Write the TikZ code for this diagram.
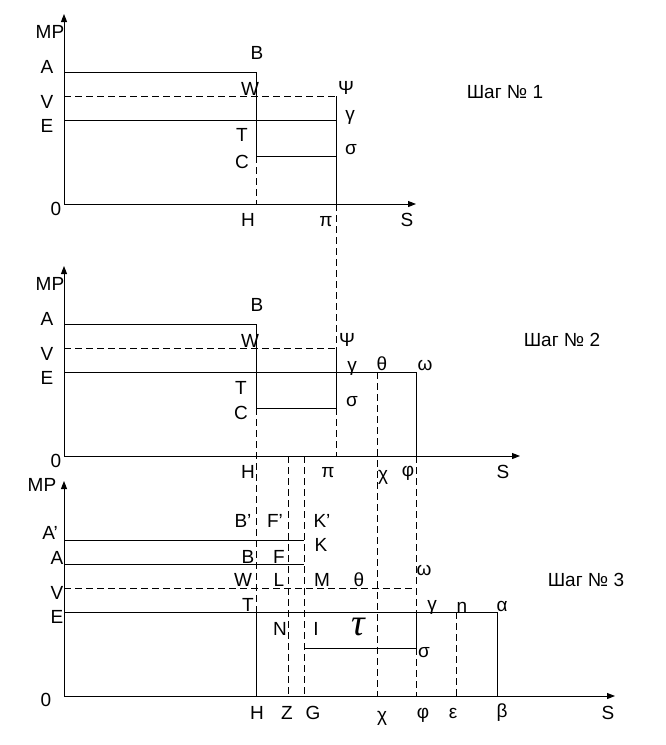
\documentclass[tikz,border=0pt]{standalone}
\usepackage{fontspec}
\setmainfont{Liberation Sans}
\newfontfamily\tauface{Liberation Serif}
\usetikzlibrary{arrows.meta}

\tikzset{
  lbl/.style={inner sep=0pt, font=\fontsize{9.5}{11}\selectfont},
  shag/.style={inner sep=0pt, font=\fontsize{9.5}{11}\selectfont},
  axis/.style={-{Triangle[length=4pt,width=3pt]}},
  brk/.style={dash pattern=on 3.5pt off 2pt},
}

\begin{document}
\begin{tikzpicture}[x=0.5pt, y=-0.5pt, line width=0.5pt]
        \useasboundingbox (0,0) rectangle (665,745);

        % Шаг 1: оси
        \draw[axis] (64,204) -- (64,14);
        \draw[axis] (64,204) -- (416,204);

        % Шаг 1: линии
        \draw (64,72) -- (256,72) -- (256,156);
        \draw[brk] (256,156) -- (256,204);
        \draw[brk] (64,96) -- (336,96);
        \draw (64,120) -- (336,120);
        \draw (256,156) -- (336,156);
        \draw (336,96) -- (336,204);
        \draw[brk] (336,204) -- (336,348);

        % Шаг 1: подписи
        \node[lbl] (mp1) at (50,32) {MP};
        \node[lbl] (a1) at (47,67) {A};
        \node[lbl] (v1) at (47,102) {V};
        \node[lbl] (e1) at (47,126) {E};
        \node[lbl] (o1) at (56,209) {0};
        \node[lbl] (b1) at (257,53) {B};
        \node[lbl] (w1) at (250,89) {W};
        \node[lbl] (psi1) at (346,88) {Ψ};
        \node[lbl] (gam1) at (350,117) {γ};
        \node[lbl] (t1) at (242,135) {T};
        \node[lbl] (sig1) at (351,150) {σ};
        \node[lbl] (c1) at (242,162) {C};
        \node[lbl] (h1) at (248,220) {H};
        \node[lbl] (pi1) at (326,222) {π};
        \node[lbl] (s1) at (407,220) {S};
        \node[shag] (shag1) at (505,92) {Шаг № 1};

        % Шаг 2: оси
        \draw[axis] (64,456) -- (64,266);
        \draw[axis] (64,456) -- (520,456);

        % Шаг 2: линии
        \draw (64,324) -- (256,324) -- (256,408);
        \draw[brk] (256,408) -- (256,612);
        \draw[brk] (64,348) -- (336,348);
        \draw (64,372) -- (416,372) -- (416,456);
        \draw (256,408) -- (336,408);
        \draw (336,348) -- (336,408);
        \draw[brk] (336,408) -- (336,456);
        \draw[brk] (377,372) -- (377,696);
        \draw[brk] (416,456) -- (416,612);
        \draw[brk] (288,456) -- (288,696);
        \draw[brk] (304,456) -- (304,696);

        % Шаг 2: подписи
        \node[lbl] (mp2) at (50,284) {MP};
        \node[lbl] (a2) at (47,319) {A};
        \node[lbl] (v2) at (47,354) {V};
        \node[lbl] (e2) at (47,378) {E};
        \node[lbl] (o2) at (56,461) {0};
        \node[lbl] (b2) at (257,305) {B};
        \node[lbl] (w2) at (250,341) {W};
        \node[lbl] (psi2) at (347,340) {Ψ};
        \node[lbl] (gam2) at (352,368) {γ};
        \node[lbl] (th2) at (382,364) {θ};
        \node[lbl] (om2) at (425,365) {ω};
        \node[lbl] (t2) at (241,388) {T};
        \node[lbl] (sig2) at (352,402) {σ};
        \node[lbl] (c2) at (241,413) {C};
        \node[lbl] (h2) at (248,472) {H};
        \node[lbl] (pi2) at (328,473) {π};
        \node[lbl] (chi2) at (383,477) {χ};
        \node[lbl] (phi2) at (408,473) {φ};
        \node[lbl] (s2) at (503,472) {S};
        \node[shag] (shag2) at (562,340) {Шаг № 2};

        % Шаг 3: оси
        \draw[axis] (64,696) -- (64,481);
        \draw[axis] (64,696) -- (615,696);

        % Шаг 3: линии
        \draw (64,540) -- (304,540);
        \draw (64,564) -- (304,564);
        \draw[brk] (64,588) -- (416,588);
        \draw (64,612) -- (497,612) -- (497,696);
        \draw (256,612) -- (256,696);
        \draw (304,648) -- (416,648) -- (416,612);
        \draw[brk] (416,648) -- (416,696);
        \draw[brk] (456,612) -- (456,696);

        % Шаг 3: подписи
        \node[lbl] (mp3) at (42,485) {MP};
        \node[lbl] (ap3) at (50,533) {A’};
        \node[lbl] (a3) at (57,558) {A};
        \node[lbl] (v3) at (57,593) {V};
        \node[lbl] (e3) at (57,617) {E};
        \node[lbl] (o3) at (46,700) {0};
        \node[lbl] (bp3) at (243,521) {B’};
        \node[lbl] (fp3) at (275,521) {F’};
        \node[lbl] (kp3) at (322,521) {K’};
        \node[lbl] (k3) at (321,545) {K};
        \node[lbl] (b3) at (248,557) {B};
        \node[lbl] (f3) at (279,557) {F};
        \node[lbl] (w3) at (243,580) {W};
        \node[lbl] (l3) at (279,580) {L};
        \node[lbl] (m3) at (322,580) {M};
        \node[lbl] (th3) at (359,580) {θ};
        \node[lbl] (om3) at (424,570) {ω};
        \node[lbl] (t3) at (248,605) {T};
        \node[lbl] (gam3) at (432,607) {γ};
        \node[lbl] (n3) at (462,607) {n};
        \node[lbl] (al3) at (502,606) {α};
        \node[lbl] (nn3) at (280,629) {N};
        \node[lbl] (i3) at (316,629) {I};
        \node[inner sep=0pt, font=\tauface\itshape\fontsize{19}{20}\selectfont] (tau3) at (358,627) {τ};
        \node[lbl] (sig3) at (424,653) {σ};
        \node[lbl] (h3) at (257,713) {H};
        \node[lbl] (z3) at (287,713) {Z};
        \node[lbl] (g3) at (313,713) {G};
        \node[lbl] (chi3) at (382,718) {χ};
        \node[lbl] (phi3) at (423,715) {φ};
        \node[lbl] (eps3) at (453,713) {ε};
        \node[lbl] (beta3) at (502,713) {β};
        \node[lbl] (s3) at (608,713) {S};
        \node[shag] (shag3) at (586,580) {Шаг № 3};
    \end{tikzpicture}
\end{document}
